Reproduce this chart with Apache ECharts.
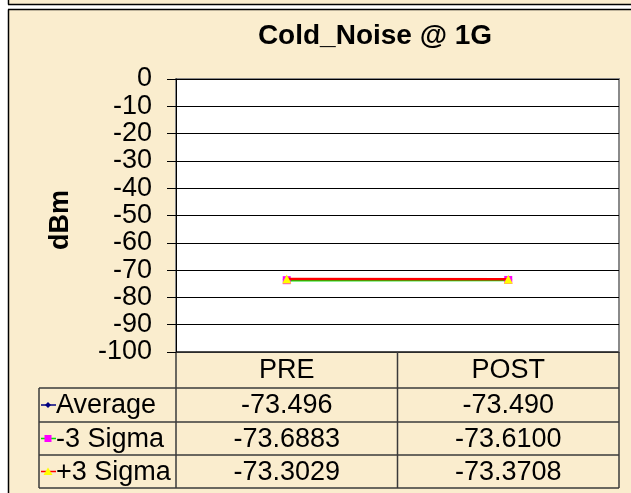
<!DOCTYPE html>
<html>
<head>
<meta charset="utf-8">
<script src="https://cdn.jsdelivr.net/npm/echarts@6/dist/echarts.min.js"></script>
<style>
  html, body { margin: 0; padding: 0; background: #fff; }
  #chart { width: 631px; height: 493px; }
</style>
</head>
<body>
<div id="chart"></div>
<script>
var categories = ['PRE', 'POST'];
var seriesNames = ['Average', '-3 Sigma', '+3 Sigma'];
var average = [-73.496, -73.490];
var minus3Sigma = [-73.6883, -73.6100];
var plus3Sigma = [-73.3029, -73.3708];
var decimals = [3, 4, 4];
var yMin = -100, yMax = 0, yStep = 10;

var FONT = '"Liberation Sans", Arial, sans-serif';
var paper = '#FAEDCE';
var lineCol = '#3a3a3a';
var fs = 27;

// grid box (px)
var gl = 176, gt = 79, gr = 619, gb = 352;
// table rows
var rowY = [352, 388, 422, 455, 488];
var tableLeft = 39;

var chart = echarts.init(document.getElementById('chart'));

var seriesStyle = [
  { data: average, color: '#000080', sym: 'diamond', symCol: '#000080' },
  { data: minus3Sigma, color: '#00E000', sym: 'rect', symCol: '#FF00FF' },
  { data: plus3Sigma, color: '#FF0000', sym: 'triangle', symCol: '#FFFF00' }
];

chart.setOption({
  backgroundColor: paper,
  animation: false,
  grid: {
    left: gl, top: gt, right: 631 - gr, bottom: 493 - gb,
    show: true, backgroundColor: '#fff', borderColor: '#8a8a8a', borderWidth: 2
  },
  xAxis: {
    type: 'category',
    data: categories,
    boundaryGap: true,
    axisLine: { show: false },
    axisTick: { show: false },
    axisLabel: { show: false }
  },
  yAxis: {
    type: 'value',
    min: yMin, max: yMax, interval: yStep,
    axisLine: { show: true, lineStyle: { color: '#000', width: 1 } },
    axisTick: { show: true, length: 9, inside: false, lineStyle: { color: '#000' } },
    axisLabel: { margin: 24, color: '#000', fontSize: fs, fontFamily: FONT },
    splitLine: { show: true, lineStyle: { color: '#000', width: 1 } }
  },
  series: seriesStyle.map(function (s, i) {
    return {
      name: seriesNames[i],
      type: 'line',
      data: s.data,
      symbol: s.sym,
      symbolSize: s.sym === 'triangle' ? 9 : 8,
      showSymbol: true,
      lineStyle: { color: s.color, width: 2.5 },
      itemStyle: { color: s.symCol },
      z: 2 + i
    };
  })
});

// build title, axis name, frame and the data table
var g = [];
// white gaps of the sheet around the frame
g.push({ type: 'rect', shape: { x: 0, y: 0, width: 8, height: 493 }, style: { fill: '#fff' } });
g.push({ type: 'rect', shape: { x: 8, y: 5, width: 623, height: 4 }, style: { fill: '#fff' } });
g.push({ type: 'line', shape: { x1: 8, y1: 4.5, x2: 631, y2: 4.5 }, style: { stroke: '#000', lineWidth: 1.5 } });
g.push({ type: 'line', shape: { x1: 8, y1: 9.5, x2: 631, y2: 9.5 }, style: { stroke: '#000', lineWidth: 1.5 } });
g.push({ type: 'line', shape: { x1: 8.5, y1: 0, x2: 8.5, y2: 4.5 }, style: { stroke: '#000', lineWidth: 1.5 } });
g.push({ type: 'line', shape: { x1: 8.5, y1: 9.5, x2: 8.5, y2: 493 }, style: { stroke: '#000', lineWidth: 1.5 } });

g.push({ type: 'text', x: 375, y: 36, style: {
  text: 'Cold_Noise @ 1G', fill: '#000', font: 'bold 28px ' + FONT, align: 'center', verticalAlign: 'middle' } });
g.push({ type: 'text', x: 61, y: 220, rotation: Math.PI / 2, style: {
  text: 'dBm', fill: '#000', font: 'bold 27px ' + FONT, align: 'center', verticalAlign: 'middle' } });

// column boundaries from the category axis
var colX = categories.map(function (c) { return chart.convertToPixel({ xAxisIndex: 0 }, c); });
var bounds = [gl, (colX[0] + colX[1]) / 2, gr];

// horizontal lines
g.push({ type: 'line', shape: { x1: gl, y1: rowY[0], x2: gr, y2: rowY[0] }, style: { stroke: lineCol, lineWidth: 1.5 } });
for (var r = 1; r < rowY.length; r++) {
  g.push({ type: 'line', shape: { x1: tableLeft, y1: rowY[r], x2: gr, y2: rowY[r] }, style: { stroke: lineCol, lineWidth: 1.5 } });
}
// vertical lines
bounds.forEach(function (bx) {
  g.push({ type: 'line', shape: { x1: bx, y1: rowY[0], x2: bx, y2: rowY[4] }, style: { stroke: lineCol, lineWidth: 1.5 } });
});
g.push({ type: 'line', shape: { x1: tableLeft, y1: rowY[1], x2: tableLeft, y2: rowY[4] }, style: { stroke: lineCol, lineWidth: 1.5 } });

// header
categories.forEach(function (c, j) {
  g.push({ type: 'text', x: colX[j], y: (rowY[0] + rowY[1]) / 2 + 1, style: {
    text: c, fill: '#000', font: fs + 'px ' + FONT, align: 'center', verticalAlign: 'middle' } });
});

function keySymbol(kind, cx, cy, fill) {
  var pts;
  if (kind === 'diamond') pts = [[cx, cy - 3], [cx + 3, cy], [cx, cy + 3], [cx - 3, cy]];
  else if (kind === 'rect') pts = [[cx - 3.5, cy - 3.5], [cx + 3.5, cy - 3.5], [cx + 3.5, cy + 3.5], [cx - 3.5, cy + 3.5]];
  else pts = [[cx, cy - 4], [cx + 4.5, cy + 3.5], [cx - 4.5, cy + 3.5]];
  return { type: 'polygon', shape: { points: pts }, style: { fill: fill } };
}

seriesStyle.forEach(function (s, i) {
  var cy = (rowY[i + 1] + rowY[i + 2]) / 2;
  g.push({ type: 'line', shape: { x1: 41, y1: cy, x2: 56, y2: cy }, style: { stroke: s.color, lineWidth: 1.5 } });
  g.push(keySymbol(s.sym, 48, cy, s.symCol));
  g.push({ type: 'text', x: 56, y: cy + 1, style: {
    text: seriesNames[i], fill: '#000', font: fs + 'px ' + FONT, align: 'left', verticalAlign: 'middle' } });
  s.data.forEach(function (v, j) {
    g.push({ type: 'text', x: colX[j], y: cy + 1, style: {
      text: v.toFixed(decimals[i]), fill: '#000', font: fs + 'px ' + FONT, align: 'center', verticalAlign: 'middle' } });
  });
});

chart.setOption({ graphic: { elements: g } });
</script>
</body>
</html>
